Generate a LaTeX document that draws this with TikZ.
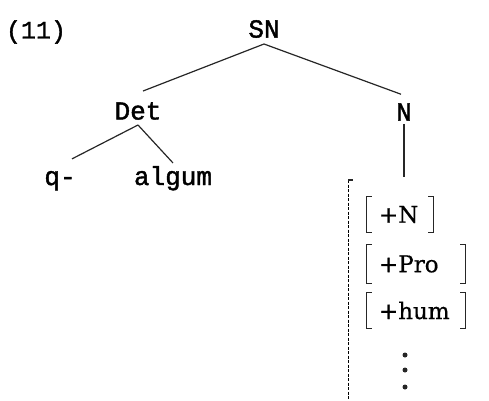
\documentclass[tikz,border=0pt]{standalone}
\usepackage{fontspec}
\setmonofont[FakeBold=1.2]{Liberation Mono}
\newfontfamily\twbold[FakeBold=1.6]{Liberation Mono}
\newfontfamily\featfont[FakeBold=0.6]{DejaVu Serif}
\begin{document}
\begin{tikzpicture}[x=1pt,y=-1pt,
  lbl/.style={font=\twbold\fontsize{26}{26}\selectfont, inner sep=0pt},
  feat/.style={font=\featfont\fontsize{23}{23}\selectfont, inner sep=0pt, anchor=west},
  brk/.style={inner sep=0pt},
  edge/.style={line width=1.2pt, black!85},
  bline/.style={line width=1.3pt, black!85}]
\useasboundingbox (0,0) rectangle (489,400);
% example number
\node[font=\twbold\fontsize{25}{25}\selectfont, inner sep=0pt] (ex) at (36,32) {(11)};
% tree
\node[lbl] (SN) at (264,29) {SN};
\node[lbl] (Det) at (138,111) {Det};
\node[lbl] (N) at (404,112) {N};
\node[lbl, anchor=base] (q) at (60,185) {q-};
\node[lbl, anchor=base] (alg) at (173,185) {algum};
\coordinate (SNb) at (264,44);
\coordinate (Detb) at (138,125);
\coordinate (Nend) at (404,177);
\draw[edge] (SNb) -- ([xshift=5pt,yshift=11pt]Det.north);
\draw[edge] (SNb) -- ([xshift=-3pt,yshift=9pt]N.north);
\draw[edge] (Detb) -- ([xshift=12pt,yshift=12pt]q.north);
\draw[edge] (Detb) -- ([xshift=0pt,yshift=3pt]alg.north);
\draw[edge] ([yshift=-3pt]N.south) -- (Nend);
% dashed vertical line
\draw[black, dash pattern=on 3pt off 1.5pt, line width=1pt] (348,180) -- (348,400);
\draw[bline] (348,180) -- (353,180);
% feature brackets
\node[brk, minimum width=66pt, minimum height=35pt] (b1) at (400,214.5) {};
\node[brk, minimum width=98pt, minimum height=38pt] (b2) at (416,264) {};
\node[brk, minimum width=98pt, minimum height=35pt] (b3) at (416,310.5) {};
\node[feat] (f1) at ([xshift=12pt]b1.west) {+N};
\node[feat] (f2) at ([xshift=12pt]b2.west) {+Pro};
\node[feat] (f3) at ([xshift=12pt]b3.west) {+hum};
\foreach \b in {b1,b2,b3}{
  \draw[bline] ([xshift=5pt]\b.north west) -- (\b.north west) -- (\b.south west) -- ([xshift=5pt]\b.south west);
  \draw[bline] ([xshift=-5pt]\b.north east) -- (\b.north east) -- (\b.south east) -- ([xshift=-5pt]\b.south east);
}
% vertical ellipsis
\fill[black!85] (405,355) circle (2.5);
\fill[black!85] (405,370) circle (2.5);
\fill[black!85] (405,387) circle (2.5);
\end{tikzpicture}
\end{document}
